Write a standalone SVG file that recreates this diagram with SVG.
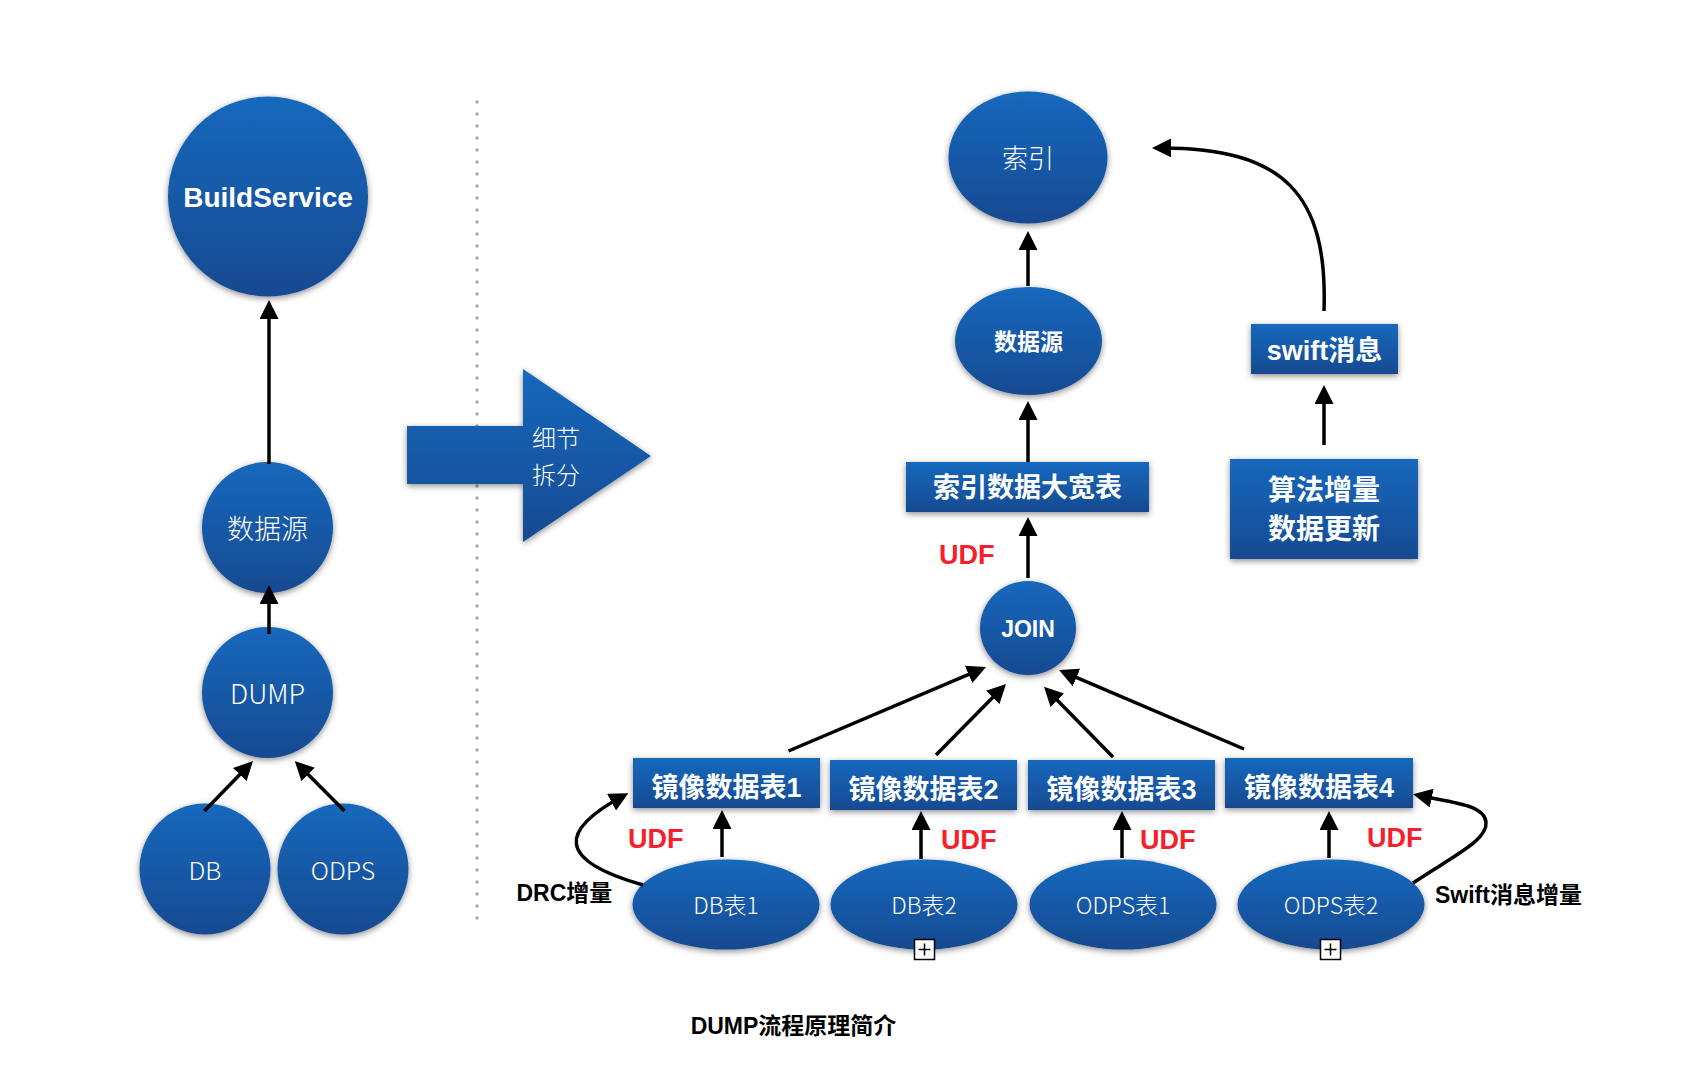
<svg xmlns="http://www.w3.org/2000/svg" width="1696" height="1074" viewBox="0 0 1696 1074">
<defs>
  <linearGradient id="blue" x1="0" y1="0" x2="0" y2="1">
    <stop offset="0" stop-color="#1468bd"/>
    <stop offset="1" stop-color="#134a91"/>
  </linearGradient>
  <filter id="shadow" x="-20%" y="-20%" width="140%" height="150%">
    <feDropShadow dx="0" dy="2" stdDeviation="3" flood-color="#000" flood-opacity="0.45"/>
  </filter>
  <marker id="ah" viewBox="0 0 19 19" refX="13" refY="9.5" markerWidth="19" markerHeight="19" markerUnits="userSpaceOnUse" orient="auto">
    <path d="M0,0 L19,9.5 L0,19 z" fill="#000"/>
  </marker>
  <style>
    .node { fill: url(#blue); filter: url(#shadow); }
    .light { font-family: "Noto Sans CJK SC", "Liberation Sans", sans-serif; font-weight: 300; fill: #fff; text-anchor: middle; }
    .bold { font-family: "Liberation Sans", "Noto Sans CJK SC", sans-serif; font-weight: bold; fill: #fff; text-anchor: middle; }
    .udf { font-family: "Liberation Sans", "Noto Sans CJK SC", sans-serif; font-weight: bold; fill: #f5202c; font-size: 27px; }
    .lbl { font-family: "Liberation Sans", "Noto Sans CJK SC", sans-serif; font-weight: bold; fill: #000; font-size: 23px; }
    .conn { fill: none; stroke: #000; stroke-width: 3.5; marker-end: url(#ah); }
    .plus { fill: #fff; stroke: #000; stroke-width: 1.5; }
  </style>
</defs>
<rect width="1696" height="1074" fill="#fff"/>

<!-- divider -->
<line x1="477" y1="102" x2="477" y2="920" stroke="#a6a6a6" stroke-width="3.5" stroke-linecap="round" stroke-dasharray="0 12"/>

<!-- left side nodes -->
<g id="buildservice">
  <circle class="node" cx="268" cy="196.5" r="100"/>
  <text class="bold" x="268" y="207" font-size="28">BuildService</text>
</g>
<g id="datasource-left">
  <circle class="node" cx="267.5" cy="527.5" r="65.5"/>
  <text class="light" x="267.5" y="539" font-size="27">数据源</text>
</g>
<g id="dump">
  <circle class="node" cx="267.5" cy="692.5" r="65.5"/>
  <text class="light" x="267.5" y="704" font-size="27">DUMP</text>
</g>
<g id="db">
  <circle class="node" cx="205" cy="869" r="65.5"/>
  <text class="light" x="205" y="879.5" font-size="25">DB</text>
</g>
<g id="odps">
  <circle class="node" cx="343" cy="869" r="65.5"/>
  <text class="light" x="343" y="879.5" font-size="25">ODPS</text>
</g>

<!-- big arrow -->
<g id="split-arrow">
  <polygon class="node" points="407,426 523,426 523,369 651,456 523,542 523,484 407,484"/>
  <text class="light" x="532" y="447" font-size="24" style="text-anchor:start">细节</text>
  <text class="light" x="532" y="484" font-size="24" style="text-anchor:start">拆分</text>
</g>

<!-- right side nodes -->
<g id="index">
  <ellipse class="node" cx="1028" cy="157.5" rx="79.5" ry="66"/>
  <text class="light" x="1028" y="168" font-size="26">索引</text>
</g>
<g id="datasource-right">
  <ellipse class="node" cx="1028.5" cy="341" rx="73.5" ry="54"/>
  <text class="bold" x="1028.5" y="350" font-size="23">数据源</text>
</g>
<g id="widetable">
  <rect class="node" x="906" y="462" width="243" height="50"/>
  <text class="bold" x="1027.5" y="497" font-size="27">索引数据大宽表</text>
</g>
<g id="join">
  <ellipse class="node" cx="1028" cy="628" rx="48" ry="47"/>
  <text class="bold" x="1028" y="636.5" font-size="23">JOIN</text>
</g>
<g id="swift-msg">
  <rect class="node" x="1251" y="324" width="147" height="50"/>
  <text class="bold" x="1324.5" y="360" font-size="27">swift消息</text>
</g>
<g id="algo-update">
  <rect class="node" x="1230" y="459" width="188" height="100"/>
  <text class="bold" x="1324" y="500" font-size="28">算法增量</text>
  <text class="bold" x="1324" y="539" font-size="28">数据更新</text>
</g>

<g id="mirror1">
  <rect class="node" x="633" y="758" width="187" height="50"/>
  <text class="bold" x="726.5" y="797" font-size="27">镜像数据表1</text>
</g>
<g id="mirror2">
  <rect class="node" x="830" y="760" width="187" height="50"/>
  <text class="bold" x="923.5" y="799" font-size="27">镜像数据表2</text>
</g>
<g id="mirror3">
  <rect class="node" x="1028" y="760" width="187" height="50"/>
  <text class="bold" x="1121.5" y="799" font-size="27">镜像数据表3</text>
</g>
<g id="mirror4">
  <rect class="node" x="1225" y="758" width="188" height="50"/>
  <text class="bold" x="1319" y="797" font-size="27">镜像数据表4</text>
</g>

<g id="dbtable1">
  <ellipse class="node" cx="726" cy="904.5" rx="93.5" ry="45"/>
  <text class="light" x="726" y="913.5" font-size="23">DB表1</text>
</g>
<g id="dbtable2">
  <ellipse class="node" cx="924" cy="904.5" rx="93.5" ry="45"/>
  <text class="light" x="924" y="913.5" font-size="23">DB表2</text>
  <rect class="plus" x="914.5" y="939.5" width="20" height="20"/>
  <path d="M918.5,949.5 H930.5 M924.5,943.5 V955.5" stroke="#000" stroke-width="1.5"/>
</g>
<g id="odpstable1">
  <ellipse class="node" cx="1123" cy="904.5" rx="93.5" ry="45"/>
  <text class="light" x="1123" y="913.5" font-size="23">ODPS表1</text>
</g>
<g id="odpstable2">
  <ellipse class="node" cx="1331" cy="904.5" rx="93.5" ry="45"/>
  <text class="light" x="1331" y="913.5" font-size="23">ODPS表2</text>
  <rect class="plus" x="1320.5" y="939.5" width="20" height="20"/>
  <path d="M1324.5,949.5 H1336.5 M1330.5,943.5 V955.5" stroke="#000" stroke-width="1.5"/>
</g>

<!-- connectors -->
<g id="connectors">
  <line class="conn" x1="269" y1="464" x2="269" y2="306"/>
  <line class="conn" x1="269" y1="634" x2="269" y2="591"/>
  <line class="conn" x1="204.4" y1="811" x2="248.8" y2="765.3"/>
  <line class="conn" x1="344.5" y1="811" x2="299" y2="765.3"/>

  <line class="conn" x1="1028" y1="286" x2="1028" y2="237"/>
  <line class="conn" x1="1028" y1="462" x2="1028" y2="407"/>
  <line class="conn" x1="1028" y1="578" x2="1028" y2="523"/>
  <line class="conn" x1="1324" y1="445" x2="1324" y2="391"/>
  <path class="conn" d="M1324,311 C1328,195 1285,147 1158,148"/>

  <line class="conn" x1="788.5" y1="751" x2="980.5" y2="669.3"/>
  <line class="conn" x1="936" y1="755" x2="1001.8" y2="688.3"/>
  <line class="conn" x1="1113" y1="757" x2="1048.2" y2="691"/>
  <line class="conn" x1="1244" y1="749" x2="1064.5" y2="672.4"/>

  <line class="conn" x1="722" y1="857" x2="722" y2="816"/>
  <line class="conn" x1="921" y1="859" x2="921" y2="817"/>
  <line class="conn" x1="1122" y1="858" x2="1122" y2="817"/>
  <line class="conn" x1="1329" y1="858" x2="1329" y2="817"/>

  <path class="conn" d="M643,885 C555,860 560,830 623,796"/>
  <path class="conn" d="M1413,883 C1455,855 1488,840 1486,822 C1484,805 1455,803 1419,795.5"/>
</g>

<!-- labels -->
<g id="labels">
  <text class="udf" x="939" y="564">UDF</text>
  <text class="udf" x="628" y="848">UDF</text>
  <text class="udf" x="941" y="849">UDF</text>
  <text class="udf" x="1140" y="849">UDF</text>
  <text class="udf" x="1367" y="847">UDF</text>
  <text class="lbl" x="516.5" y="901">DRC增量</text>
  <text class="lbl" x="1435" y="903">Swift消息增量</text>
  <text class="lbl" x="793.5" y="1034" font-size="23.5" text-anchor="middle">DUMP流程原理简介</text>
</g>
</svg>
